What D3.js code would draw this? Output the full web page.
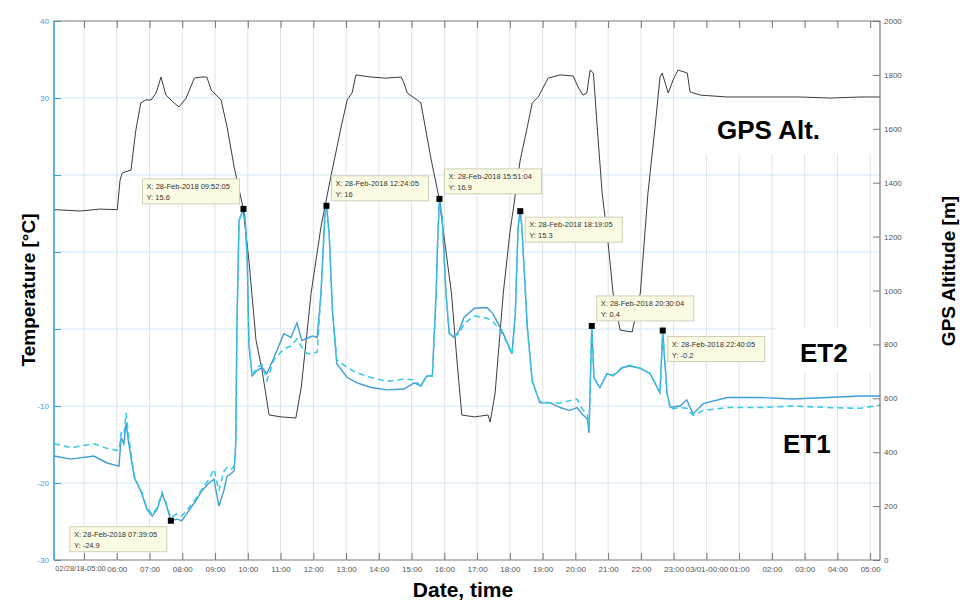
<!DOCTYPE html>
<html>
<head>
<meta charset="utf-8">
<script src="https://cdn.jsdelivr.net/npm/d3@7"></script>
<style>
	body { margin: 0; background: #fff; }
	svg { font-family: 'Liberation Sans', Arial, sans-serif; }
</style>
</head>
<body>
<svg width="965" height="610"></svg>
<script>
// ---------------- Data ----------------

// GPS altitude (m), times on 28-Feb, rolling over to 01-Mar
const gpsTime = ['04:05', '04:53', '05:29', '06:01', '06:06', '06:10', '06:26', '06:35', '06:44', '06:53',
	'07:03', '07:12', '07:21', '07:30', '07:45', '07:54', '08:07', '08:22', '08:34', '08:45',
	'08:53', '09:11', '09:22', '09:35', '09:51', '10:02', '10:15', '10:26', '10:39', '11:01',
	'11:28', '11:38', '11:56', '12:14', '12:32', '12:51', '13:02', '13:11', '13:18', '13:46',
	'14:13', '14:41', '14:46', '14:52', '15:10', '15:17', '15:36', '15:50', '16:13', '16:23',
	'16:32', '16:55', '17:20', '17:24', '17:33', '17:48', '18:00', '18:19', '18:32', '18:41',
	'18:52', '19:10', '19:32', '19:56', '20:05', '20:14', '20:21', '20:27', '20:33', '20:40',
	'20:49', '21:00', '21:09', '21:22', '21:44', '21:59', '22:13', '22:26', '22:35', '22:39',
	'22:50', '22:59', '23:08', '23:25', '23:30', '23:49', '00:38', '01:38', '02:52', '03:47',
	'04:41', '05:18'];
const gpsAlt = [1300, 1295, 1302, 1300, 1410, 1436, 1447, 1596, 1696, 1707,
	1707, 1733, 1792, 1725, 1696, 1681, 1714, 1788, 1792, 1792,
	1744, 1707, 1607, 1458, 1310, 1113, 816, 705, 538, 531,
	527, 642, 991, 1236, 1421, 1607, 1707, 1733, 1800, 1792,
	1788, 1792, 1770, 1733, 1707, 1696, 1484, 1347, 991, 742,
	538, 531, 538, 512, 620, 991, 1213, 1484, 1607, 1696,
	1718, 1788, 1800, 1796, 1755, 1725, 1733, 1818, 1807, 1607,
	1362, 1176, 991, 853, 846, 991, 1362, 1607, 1792, 1807,
	1733, 1781, 1818, 1807, 1737, 1725, 1718, 1718, 1718, 1714,
	1718, 1718];

// Temperatures (°C) of ET1 (solid) and ET2 (dashed)
const etTime = ['04:05', '04:36', '05:18', '05:42', '06:04', '06:08', '06:13', '06:17', '06:22', '06:32',
	'06:41', '06:46', '06:55', '07:05', '07:14', '07:23', '07:30', '07:39:05', '07:50', '07:59',
	'08:09', '08:25', '08:36', '08:49', '08:58', '09:07', '09:16', '09:22', '09:29', '09:35',
	'09:38', '09:40', '09:44', '09:52:05', '09:55', '09:59', '10:02', '10:08', '10:17', '10:26',
	'10:35', '10:48', '11:06', '11:19', '11:30', '11:39', '11:49', '11:58', '12:07', '12:14',
	'12:21', '12:24:05', '12:29', '12:35', '12:43', '13:02', '13:20', '13:46', '14:15', '14:46',
	'15:05', '15:17', '15:28', '15:38', '15:45', '15:48', '15:51:04', '15:56', '16:03', '16:09',
	'16:18', '16:27', '16:36', '16:55', '17:18', '17:29', '17:48', '18:04', '18:10', '18:15',
	'18:19:05', '18:22', '18:32', '18:41', '18:55', '19:14', '19:32', '19:50', '20:03', '20:12',
	'20:22', '20:25', '20:30:04', '20:31', '20:34', '20:40', '20:45', '20:58', '21:09', '21:27',
	'21:40', '21:59', '22:17', '22:30', '22:35', '22:40:05', '22:42', '22:48', '22:54', '23:12',
	'23:24', '23:30', '23:36', '23:54', '00:38', '01:38', '02:39', '03:41', '04:42', '05:18'];
const et1 = [-16.5, -16.9, -16.5, -17.4, -17.8, -14.1, -14.9, -12.2, -14.9, -19.3,
	-20.6, -21.4, -23.4, -24.3, -23.4, -21.4, -22.7, -24.9, -24.7, -24.9,
	-23.9, -22.3, -21.0, -20.0, -19.5, -23.0, -21.0, -19.1, -18.8, -18.4,
	-14.9, 0.2, 14.1, 15.6, 14.5, 8.9, -1.9, -6.1, -5.4, -5.0,
	-5.8, -3.7, -0.6, -1.1, 0.8, -1.5, -1.2, -0.9, -1.1, 4.6,
	14.5, 16, 12.4, 2.4, -4.5, -6.3, -7.0, -7.6, -7.9, -7.8,
	-7.0, -7.4, -6.1, -6.1, 4.6, 12.0, 16.9, 14.5, 4.6, -0.6,
	-1.1, -0.2, 1.5, 2.7, 2.8, 2.0, -0.6, -3.2, 2.0, 13.2,
	15.3, 13.2, 0.2, -6.7, -9.6, -9.6, -10.2, -10.6, -10.2, -11.0,
	-11.7, -13.5, 0.4, -1.0, -6.3, -7.1, -7.6, -5.8, -6.1, -5.0,
	-4.8, -5.1, -5.8, -7.6, -8.3, -0.2, -2.4, -8.4, -10.2, -10.0,
	-9.2, -10.2, -11.0, -9.7, -8.9, -8.9, -9.1, -8.9, -8.7, -8.7];
const et2 = [-14.9, -15.4, -14.9, -15.5, -15.8, -13.5, -13.8, -10.9, -14.0, -19.0,
	-20.6, -21.2, -23.2, -24.1, -23.2, -21.2, -22.5, -24.5, -24.0, -24.3,
	-23.5, -22.0, -20.8, -19.5, -18.2, -21.0, -18.5, -18.0, -18.3, -17.8,
	-14.5, 0.2, 14.1, 15.6, 14.5, 8.9, -1.9, -6.0, -5.0, -4.6,
	-6.7, -4.0, -2.6, -2.2, -1.3, -2.4, -3.2, -3.2, -3.0, 4.6,
	14.5, 16, 12.4, 2.4, -4.0, -5.0, -5.7, -6.3, -6.8, -6.5,
	-6.6, -7.4, -6.0, -6.1, 4.6, 12.0, 16.9, 14.5, 4.6, -0.4,
	-0.9, -0.6, 0.7, 1.7, 1.4, 1.0, -0.8, -3.3, 2.0, 13.2,
	15.3, 13.2, 0.2, -6.9, -9.4, -9.6, -9.6, -9.3, -9.1, -10.3,
	-11.2, -13.0, 0.4, -1.0, -6.3, -7.1, -7.6, -5.8, -6.0, -4.9,
	-4.7, -5.1, -5.8, -7.6, -8.3, -0.2, -2.4, -8.4, -10.4, -10.2,
	-10.3, -10.8, -11.2, -10.6, -10.2, -10.2, -10.0, -10.2, -10.3, -9.9];

// Data tips (datacursor boxes)
const tipTime = ['07:39:05', '09:52:05', '12:24:05', '15:51:04', '18:19:05', '20:30:04', '22:40:05'];
const tipTemp = [-24.9, 15.6, 16, 16.9, 15.3, 0.4, -0.2];
const tipSide = ['dl', 'ul', 'ur', 'ur', 'dr', 'ur', 'dr'];

// Axis ticks
const tempTicks = [-30, -20, -10, 0, 10, 20, 30, 40];
const tempLabels = ['-30', '-20', '-10', '', '', '', '30', '40']; // 0, 10, 20 are not printed in the picture
const altTicks = [0, 200, 400, 600, 800, 1000, 1200, 1400, 1600, 1800, 2000];
const hourLabels = ['02/28/18-05:00', '06:00', '07:00', '08:00', '09:00', '10:00', '11:00', '12:00',
	'13:00', '14:00', '15:00', '16:00', '17:00', '18:00', '19:00', '20:00', '21:00', '22:00',
	'23:00', '03/01-00:00', '01:00', '02:00', '03:00', '04:00', '05:00'];

// ---------------- Helpers ----------------

// turns 'HH:MM(:SS)' strings into dates, moving to the next day when the clock wraps
function toDates(list) {
	let day = 28;
	let prev = -1;
	return list.map((s) => {
		const [h, m, sec = 0] = s.split(':').map(Number);
		const mins = h * 60 + m + sec / 60;
		if (mins < prev) day += 1;
		prev = mins;
		return new Date(2018, 1, day, h, m, sec);
	});
}

const gpsData = toDates(gpsTime).map((t, i) => ({ t, v: gpsAlt[i] }));
const etDates = toDates(etTime);
const et1Data = etDates.map((t, i) => ({ t, v: et1[i] }));
const et2Data = etDates.map((t, i) => ({ t, v: et2[i] }));
const tipDates = toDates(tipTime);

// ---------------- Chart ----------------

const plotLeft = 54, plotRight = 880, plotTop = 21, plotBottom = 560;

const svg = d3.select('svg');

const x = d3.scaleTime()
	.domain([new Date(2018, 1, 28, 4, 5), new Date(2018, 2, 1, 5, 18)])
	.range([plotLeft, plotRight]);
const yT = d3.scaleLinear().domain([-30, 40]).range([plotBottom, plotTop]);
const yA = d3.scaleLinear().domain([0, 2000]).range([plotBottom, plotTop]);

const hourTicks = d3.timeHour.range(new Date(2018, 1, 28, 5), new Date(2018, 2, 1, 5, 30));

// grid
const grid = svg.append('g');
grid.selectAll('.vgrid')
	.data(hourTicks)
	.join('line')
	.attr('x1', (d) => x(d)).attr('x2', (d) => x(d))
	.attr('y1', plotTop).attr('y2', plotBottom)
	.attr('stroke', '#e2e2e2');
grid.selectAll('.hgrid')
	.data(tempTicks.slice(1, -1))
	.join('line')
	.attr('x1', plotLeft).attr('x2', plotRight)
	.attr('y1', (d) => yT(d)).attr('y2', (d) => yT(d))
	.attr('stroke', '#d3e9f6');

// white patches behind the pasted labels
svg.append('rect').attr('x', 705).attr('y', plotTop + 3).attr('width', plotRight - 706).attr('height', 130).attr('fill', '#fff');
svg.append('rect').attr('x', 776).attr('y', 327).attr('width', plotRight - 777).attr('height', 45).attr('fill', '#fff');

// lines
const line = (yScale) => d3.line().x((d) => x(d.t)).y((d) => yScale(d.v));

svg.append('path')
	.datum(gpsData)
	.attr('d', line(yA))
	.attr('fill', 'none')
	.attr('stroke', '#3c3c3c')
	.attr('stroke-width', 1);

svg.append('path')
	.datum(et1Data)
	.attr('d', line(yT))
	.attr('fill', 'none')
	.attr('stroke', '#3f9ed6')
	.attr('stroke-width', 1.4);

svg.append('path')
	.datum(et2Data)
	.attr('d', line(yT))
	.attr('fill', 'none')
	.attr('stroke', '#33c8ec')
	.attr('stroke-width', 1.5)
	.attr('stroke-dasharray', '6,4');

// axes
const bottomAxis = svg.append('g')
	.attr('transform', `translate(0,${plotBottom})`)
	.call(d3.axisBottom(x).tickValues(hourTicks).tickSize(-7).tickPadding(6)
		.tickFormat((d, i) => hourLabels[i]));
const topAxis = svg.append('g')
	.attr('transform', `translate(0,${plotTop})`)
	.call(d3.axisTop(x).tickValues(hourTicks).tickSize(-7).tickFormat(''));
const leftAxis = svg.append('g')
	.attr('transform', `translate(${plotLeft},0)`)
	.call(d3.axisLeft(yT).tickValues(tempTicks).tickSize(-7).tickPadding(5)
		.tickFormat((d, i) => tempLabels[i]));
const rightAxis = svg.append('g')
	.attr('transform', `translate(${plotRight},0)`)
	.call(d3.axisRight(yA).tickValues(altTicks).tickSize(-7).tickPadding(4)
		.tickFormat(d3.format('d')));

[bottomAxis, topAxis, rightAxis].forEach((g) => {
	g.select('.domain').remove();
	g.selectAll('line').attr('stroke', '#777');
	g.selectAll('text').attr('fill', '#555').style('font-size', '8px');
});
// first date label is wider, squeeze it a little so it clears '06:00'
bottomAxis.selectAll('.tick text').filter((d, i) => i === 0)
	.attr('dx', -4).style('font-size', '7.5px');
leftAxis.select('.domain').remove();
leftAxis.selectAll('line').attr('stroke', '#3aa0dc');
leftAxis.selectAll('text').attr('fill', '#3aa3e0').style('font-size', '8px');

// box frame
svg.append('path')
	.attr('d', `M${plotLeft},${plotTop}H${plotRight}V${plotBottom}H${plotLeft}`)
	.attr('fill', 'none').attr('stroke', '#7a7a7a').attr('stroke-width', 1.2);
svg.append('line')
	.attr('x1', plotLeft).attr('x2', plotLeft).attr('y1', plotTop).attr('y2', plotBottom)
	.attr('stroke', '#3aa0dc').attr('stroke-width', 1.6);

// data tips
const tipW = 97, tipH = 25;
const tips = svg.append('g')
	.selectAll('g')
	.data(tipDates.map((t, i) => ({ t, v: tipTemp[i], side: tipSide[i], label: tipTime[i] })))
	.join('g')
	.attr('transform', (d) => `translate(${x(d.t)},${yT(d.v)})`);

tips.append('rect')
	.attr('x', (d) => (d.side[1] === 'l' ? -tipW - 4 : 5))
	.attr('y', (d) => (d.side[0] === 'u' ? -tipH - 5 : 6))
	.attr('width', tipW).attr('height', tipH)
	.attr('fill', '#fbfbe4').attr('stroke', '#cfcfb8');

tips.append('text')
	.attr('x', (d) => (d.side[1] === 'l' ? -tipW : 9))
	.attr('y', (d) => (d.side[0] === 'u' ? -tipH - 5 : 6) + 10)
	.attr('fill', '#333').style('font-size', '7.5px')
	.text((d) => `X: 28-Feb-2018 ${d.label}`);

tips.append('text')
	.attr('x', (d) => (d.side[1] === 'l' ? -tipW : 9))
	.attr('y', (d) => (d.side[0] === 'u' ? -tipH - 5 : 6) + 21)
	.attr('fill', '#333').style('font-size', '7.5px')
	.text((d) => `Y: ${d.v}`);

tips.append('rect')
	.attr('x', -3).attr('y', -3).attr('width', 6).attr('height', 6)
	.attr('fill', '#000');

// titles and labels
svg.append('text')
	.attr('transform', 'translate(35,290) rotate(-90)')
	.attr('text-anchor', 'middle')
	.style('font-size', '19px').style('font-weight', 'bold')
	.text('Temperature [°C]');

svg.append('text')
	.attr('transform', 'translate(955,271) rotate(-90)')
	.attr('text-anchor', 'middle')
	.style('font-size', '19px').style('font-weight', 'bold')
	.text('GPS Altitude [m]');

svg.append('text')
	.attr('x', 463).attr('y', 597)
	.attr('text-anchor', 'middle')
	.style('font-size', '21px').style('font-weight', 'bold')
	.text('Date, time');

const seriesLabels = [['GPS Alt.', 717, 139], ['ET2', 800, 362], ['ET1', 783, 453]];
svg.selectAll('.slabel')
	.data(seriesLabels)
	.join('text')
	.attr('x', (d) => d[1]).attr('y', (d) => d[2])
	.style('font-size', '26px').style('font-weight', 'bold')
	.text((d) => d[0]);
</script>
</body>
</html>
